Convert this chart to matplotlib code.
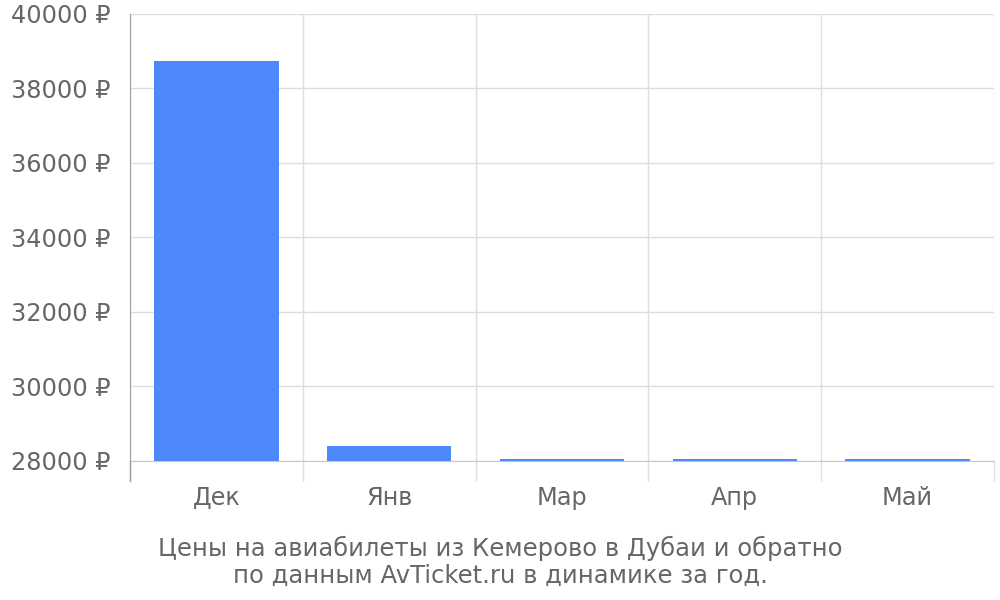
import numpy as np
import matplotlib
matplotlib.use('Agg')
import matplotlib.pyplot as plt
from matplotlib.ticker import FixedLocator

plt.rcParams['font.family'] = ['DejaVu Sans']

months = ['Дек', 'Янв', 'Мар', 'Апр', 'Май']
prices = [38750, 28400, 28050, 28050, 28050]
y_ticks = [28000, 30000, 32000, 34000, 36000, 38000, 40000]
caption = 'Цены на авиабилеты из Кемерово в Дубаи и обратно\nпо данным AvTicket.ru в динамике за год.'

text_color = '#666666'
grid_color = '#dddddd'

fig = plt.figure(figsize=(10, 6), dpi=100)
ax = fig.add_axes([0.13, 0.2317, 0.864, 0.745])

x = np.arange(len(months))
ax.bar(x, np.array(prices) - y_ticks[0], bottom=y_ticks[0], width=0.72,
       color='#4e89fc', zorder=3)

ax.set_xlim(-0.5, len(months) - 0.5)
ax.set_ylim(y_ticks[0], y_ticks[-1])
ax.set_yticks(y_ticks)
ax.set_yticklabels([f'{v} ₽' for v in y_ticks])
ax.set_xticks(x)
ax.set_xticklabels(months)

# boundaries between categories: grid lines that run below the axis
bounds = np.arange(len(months) + 1) - 0.5
ax.xaxis.set_minor_locator(FixedLocator(bounds))
ax.grid(axis='x', which='minor', color=grid_color, linewidth=1, zorder=0)
ax.grid(axis='y', which='major', color=grid_color, linewidth=1, zorder=0)
ax.tick_params(axis='x', which='minor', length=14.4, color=grid_color, width=1)
ax.tick_params(axis='x', which='major', length=0, pad=18, labelsize=17.3,
               labelcolor=text_color)
ax.tick_params(axis='y', length=0, pad=14, labelsize=17.3, labelcolor=text_color)

for s in ['top', 'right']:
    ax.spines[s].set_visible(False)
ax.spines['bottom'].set_color('#c8c8c8')
ax.spines['left'].set_color('#a0a0a0')
# darker left line continues below the axis like the first boundary tick
ax.plot([-0.5, -0.5], [y_ticks[0], y_ticks[0] - 540], color='#a0a0a0',
        linewidth=1, clip_on=False, zorder=4)
ax.set_ylim(y_ticks[0], y_ticks[-1])

fig.text(0.5, 0.064, caption, ha='center', va='center', fontsize=17.5,
         color=text_color, linespacing=1.15)

fig.savefig('out.png', dpi=100, facecolor='white')
